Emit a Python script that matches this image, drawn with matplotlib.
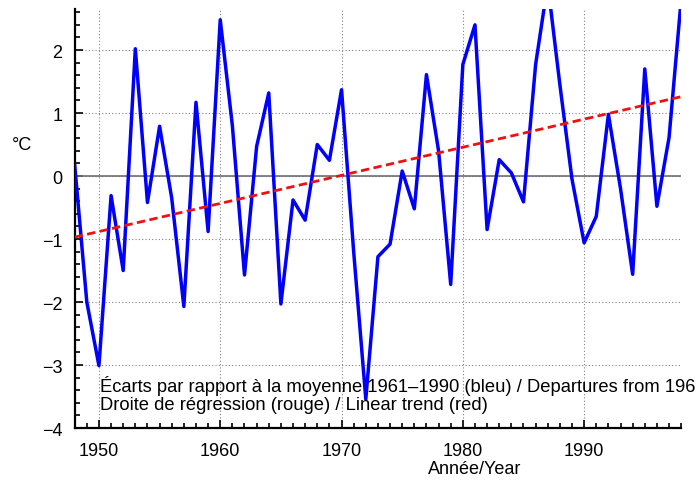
import matplotlib
matplotlib.use("Agg")
import matplotlib.pyplot as plt
from matplotlib.ticker import MultipleLocator

plt.rcParams["font.family"] = ["Liberation Sans", "DejaVu Sans"]

# Annual temperature departures (deg C) from the 1961-1990 mean
years = list(range(1948, 1999))
departures = [0.18, -2.0, -3.01, -0.31, -1.5, 2.02, -0.42, 0.79, -0.35, -2.07,
              1.17, -0.88, 2.48, 0.8, -1.57, 0.47, 1.32, -2.03, -0.38, -0.70,
              0.50, 0.25, 1.37, -1.2, -3.54, -1.28, -1.08, 0.08, -0.52, 1.61,
              0.4, -1.72, 1.77, 2.40, -0.85, 0.26, 0.05, -0.41, 1.77, 3.05,
              1.45, -0.05, -1.06, -0.64, 0.98, -0.2, -1.56, 1.70, -0.48, 0.61,
              2.8]

# Linear trend end points
trend_years = [1948, 1998]
trend_values = [-0.97, 1.26]

x_ticks = [1950, 1960, 1970, 1980, 1990]
y_ticks = [-4, -3, -2, -1, 0, 1, 2]

fig = plt.figure(figsize=(6.96, 4.81), dpi=100)
ax = fig.add_axes([0.1073, 0.108, 0.8714, 0.871])

# grid + zero line
ax.grid(True, which="major", color="#808080", linestyle=(0, (1, 2)), linewidth=0.8)
ax.axhline(0, color="#707070", linewidth=1.2, zorder=2)

ax.plot(years, departures, color="#0000ff", linewidth=2.5, zorder=3)
ax.plot(trend_years, trend_values, color="#ee1111", linewidth=2.0,
        linestyle=(0, (3, 1.6)), zorder=4)

ax.set_xlim(1948, 1998)
ax.set_ylim(-4, 2.65)
ax.set_xticks(x_ticks)
ax.set_yticks(y_ticks)
ax.set_yticklabels(["\u22124", "\u22123", "\u22122", "\u22121", "0", "1", "2"])
ax.xaxis.set_minor_locator(MultipleLocator(1))
ax.yaxis.set_minor_locator(MultipleLocator(0.2))

ax.tick_params(which="both", direction="in", labelsize=13, width=1.2)
ax.tick_params(which="major", length=6, pad=9)
ax.tick_params(which="minor", length=3.5)
ax.tick_params(axis="x", pad=10)

for side in ["top", "right"]:
    ax.spines[side].set_visible(False)
for side in ["left", "bottom"]:
    ax.spines[side].set_linewidth(1.6)

ax.set_ylabel("\u00b0C", fontsize=13, rotation=0, va="center", ha="center")
ax.yaxis.set_label_coords(-0.087, 0.678)
ax.set_xlabel("Ann\u00e9e/Year", fontsize=13, x=0.66, labelpad=1)

ax.text(1950.05, -3.31, "\u00c9carts par rapport \u00e0 la moyenne 1961\u20131990 (bleu) / "
        "Departures from 1961\u20131990 mean (blue)",
        fontsize=13.2, va="center", ha="left", clip_on=False, zorder=5)
ax.text(1950.05, -3.62, "Droite de r\u00e9gression (rouge) / Linear trend (red)",
        fontsize=13.2, va="center", ha="left", clip_on=False, zorder=5)

plt.savefig("out.png", dpi=100)
